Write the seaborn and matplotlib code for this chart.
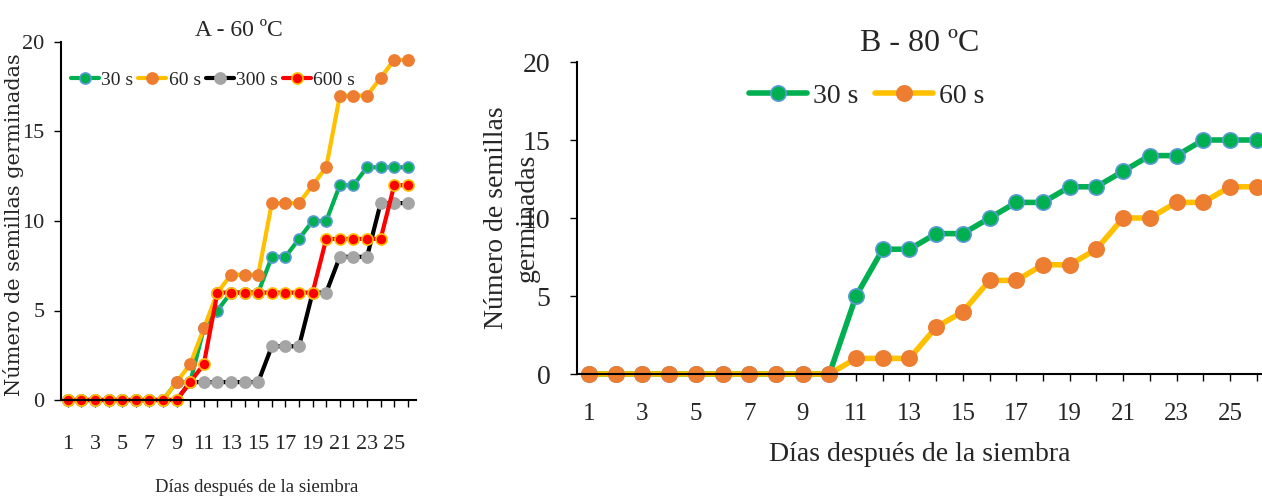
import numpy as np
import pandas as pd
import matplotlib
matplotlib.use("Agg")
import matplotlib.pyplot as plt
import seaborn as sns

days = list(range(1, 27))

# Panel A - 60 ºC
a_30s = [0, 0, 0, 0, 0, 0, 0, 0, 1, 1, 4, 5, 6, 6, 6, 8, 8, 9, 10, 10, 12, 12, 13, 13, 13, 13]
a_60s = [0, 0, 0, 0, 0, 0, 0, 0, 1, 2, 4, 6, 7, 7, 7, 11, 11, 11, 12, 13, 17, 17, 17, 18, 19, 19]
a_300s = [0, 0, 0, 0, 0, 0, 0, 0, 0, 1, 1, 1, 1, 1, 1, 3, 3, 3, 6, 6, 8, 8, 8, 11, 11, 11]
a_600s = [0, 0, 0, 0, 0, 0, 0, 0, 0, 1, 2, 6, 6, 6, 6, 6, 6, 6, 6, 9, 9, 9, 9, 9, 12, 12]

# Panel B - 80 ºC
b_30s = [0, 0, 0, 0, 0, 0, 0, 0, 0, 0, 5, 8, 8, 9, 9, 10, 11, 11, 12, 12, 13, 14, 14, 15, 15, 15]
b_60s = [0, 0, 0, 0, 0, 0, 0, 0, 0, 0, 1, 1, 1, 3, 4, 6, 6, 7, 7, 8, 10, 10, 11, 11, 12, 12]

y_ticks = [0, 5, 10, 15, 20]
x_labels = [str(d) if d % 2 == 1 else "" for d in days]

sns.set_style("white")
plt.rcParams["font.family"] = ["Liberation Serif", "DejaVu Serif"]

styles = {
    "30 s": dict(color="#00B050", markerfacecolor="#00B050", markeredgecolor="#5B9BD5"),
    "60 s": dict(color="#FFC000", markerfacecolor="#ED7D31", markeredgecolor="#ED7D31"),
    "300 s": dict(color="black", markerfacecolor="#A5A5A5", markeredgecolor="#A5A5A5"),
    "600 s": dict(color="#FF0000", markerfacecolor="#FF0000", markeredgecolor="#FFC000"),
}

fig = plt.figure(figsize=(12.62, 5.04), dpi=100)
ax_a = fig.add_axes([61 / 1262, 1 - 400 / 504, (416 - 61) / 1262, (400 - 42) / 504])
ax_b = fig.add_axes([577 / 1262, 1 - 374 / 504, (1262 - 577) / 1262, (374 - 62) / 504])

series_a = {"30 s": a_30s, "60 s": a_60s, "300 s": a_300s, "600 s": a_600s}
series_b = {"30 s": b_30s, "60 s": b_60s}


def draw(ax, series, lw, ms, mew):
    for name, vals in series.items():
        df = pd.DataFrame({"dia": days, "n": vals})
        sns.lineplot(data=df, x="dia", y="n", ax=ax, label=name, marker="o",
                     linewidth=lw, markersize=ms, markeredgewidth=mew,
                     clip_on=False, **styles[name])
    ax.set_ylim(0, 20)
    ax.set_yticks(y_ticks)
    ax.set_xticks(days)
    ax.set_xticklabels(x_labels)
    sns.despine(ax=ax)
    for s in ["left", "bottom"]:
        ax.spines[s].set_color("black")
        ax.spines[s].set_linewidth(1.5)
    ax.tick_params(axis="both", direction="out", length=5, width=1, color="black",
                   bottom=True, left=True)


# --- A ---
draw(ax_a, series_a, 3, 8, 1.2)
ax_a.set_xlim(0.5, 26.6)
ax_a.tick_params(axis="x", labelsize=16, pad=20)
ax_a.tick_params(axis="y", labelsize=16, pad=7)
ax_a.set_title("A - 60 ºC", fontsize=17, pad=4)
ax_a.set_xlabel("Días después de la siembra", fontsize=13.5)
ax_a.xaxis.set_label_coords(0.55, -0.22)
ax_a.set_ylabel("Número de semillas germinadas", fontsize=15,
                family=["DejaVu Serif"])
ax_a.yaxis.set_label_coords(-0.105, 0.49)
ax_a.legend(loc="center left", bbox_to_anchor=(0.005, 0.894), ncol=4, frameon=False,
            fontsize=14, handlelength=1.45, handletextpad=0.12, columnspacing=0.25,
            borderaxespad=0)

# --- B ---
draw(ax_b, series_b, 4, 11, 1.2)
ax_b.set_xlim(0.55, 26.2)
ax_b.tick_params(axis="x", labelsize=18, pad=16)
ax_b.tick_params(axis="y", labelsize=20, pad=14)
ax_b.set_title("B - 80 ºC", fontsize=23, pad=8)
ax_b.set_xlabel("Días después de la siembra", fontsize=20, labelpad=12)
ax_b.set_ylabel("Número de semillas\ngerminadas", fontsize=20, linespacing=1.3)
ax_b.yaxis.set_label_coords(-0.055, 0.5)
ax_b.legend(loc="center left", bbox_to_anchor=(0.235, 0.89), ncol=2, frameon=False,
            fontsize=20, handlelength=2.1, handletextpad=0.2, columnspacing=0.6,
            borderaxespad=0)

fig.savefig("out.png", dpi=100)
